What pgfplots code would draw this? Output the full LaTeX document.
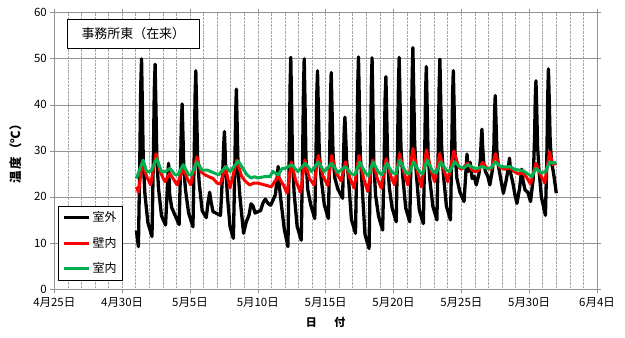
\documentclass[border=0pt]{standalone}
\usepackage{fontspec}
\setmainfont{Noto Sans CJK JP}
\usepackage{pgfplots}
\pgfplotsset{compat=1.18}
\definecolor{exred}{RGB}{255,0,0}
\definecolor{exgreen}{RGB}{0,176,80}
\begin{document}
\begin{tikzpicture}
\path[use as bounding box] (-54.3bp,-49bp) rectangle (570.7bp,289bp);
\begin{axis}[
  scale only axis, width=542.7bp, height=276.3bp,
  xmin=0, xmax=40, ymin=0, ymax=60,
  xtick={0,5,...,40},
  xticklabels={4月25日,4月30日,5月5日,5月10日,5月15日,5月20日,5月25日,5月30日,6月4日},
  minor x tick num=4,
  ytick={0,10,...,60},
  xmajorgrids, xminorgrids, ymajorgrids,
  x grid style={gray!70, densely dotted, line width=0.6bp},
  y grid style={gray!85, line width=0.6bp},
  axis line style={gray!85, line width=0.6bp},
  tick style={gray!85, line width=0.6bp},
  tick align=outside, major tick length=4bp, minor tick length=0bp,
  /pgf/number format/assume math mode=true,
  tick label style={font=\fontsize{11.5}{13}\selectfont},
  xticklabel style={yshift=-1bp},
  xlabel={\textbf{日\hspace{1.6em}付}},
  ylabel={\textbf{温\hspace{0.15em}度\hspace{0.1em}（℃）}},
  xlabel style={yshift=-3bp, font=\fontsize{11}{13}\selectfont},
  ylabel style={yshift=5bp, font=\fontsize{12.5}{14}\selectfont},
  legend cell align=left,
  legend style={at={(rel axis cs:0.006,0.03)}, anchor=south west, draw=black, line width=0.6bp, fill=white,
    font=\fontsize{12}{14}\selectfont, row sep=10bp, inner sep=4bp},
  legend image code/.code={\draw[#1] (0cm,0cm) -- (0.9cm,0cm);},
  line join=round,
]
\addplot[black, line width=3.3bp] table {
6.05 12.7
6.2 9.2
6.3 27.6
6.37 43.9
6.43 50.0
6.49 39.8
6.56 27.6
6.68 20.6
6.9 14.4
7.2 11.4
7.3 28.2
7.37 43.2
7.43 48.8
7.49 39.5
7.56 28.2
7.68 21.9
7.9 15.9
8.2 13.9
8.32 21.3
8.42 27.3
8.5 20.6
8.65 17.7
8.9 16.0
9.2 14.0
9.3 25.8
9.37 36.3
9.42 40.2
9.48 33.7
9.55 25.8
9.68 21.3
9.9 16.5
10.22 13.5
10.31 28.8
10.38 42.3
10.43 47.4
10.49 38.9
10.56 28.8
10.68 23.0
10.9 17.0
11.2 15.5
11.32 18.5
11.45 21.0
11.55 19.0
11.7 16.8
11.9 16.5
12.25 16.0
12.42 26.0
12.49 31.5
12.54 34.2
12.59 30.0
12.65 25.1
12.78 19.5
12.95 13.6
13.2 11.0
13.3 25.6
13.37 38.5
13.42 43.4
13.48 35.3
13.55 25.6
13.68 20.1
13.95 12.1
14.15 14.6
14.35 16.0
14.5 18.5
14.65 18.0
14.8 16.5
15.0 16.8
15.2 17.0
15.4 18.8
15.55 19.5
15.75 18.6
15.95 18.2
16.15 19.5
16.3 20.5
16.5 26.6
16.6 22.0
16.75 18.0
16.95 13.0
17.22 9.2
17.31 27.7
17.38 44.1
17.43 50.3
17.49 40.0
17.56 27.7
17.68 20.7
17.9 13.6
18.2 10.6
18.3 28.3
18.37 44.1
18.42 50.0
18.48 40.2
18.55 28.3
18.68 21.6
18.9 18.3
19.2 15.3
19.29 29.7
19.35 42.6
19.4 47.4
19.46 39.4
19.53 29.7
19.66 24.3
19.9 18.3
20.2 15.3
20.3 29.6
20.36 42.2
20.41 47.0
20.47 39.1
20.54 29.6
20.67 24.2
20.9 21.7
21.25 19.7
21.31 27.6
21.37 34.7
21.42 37.3
21.48 32.9
21.55 27.6
21.67 24.6
21.9 15.1
22.2 12.1
22.3 29.3
22.37 44.7
22.42 50.4
22.48 40.8
22.55 29.3
22.68 22.8
22.9 11.8
23.2 8.8
23.3 27.4
23.37 44.0
23.42 50.2
23.48 39.9
23.55 27.4
23.68 20.4
23.9 15.8
24.2 12.8
24.31 27.8
24.38 41.1
24.44 46.1
24.5 37.8
24.57 27.8
24.69 22.1
24.9 17.6
25.2 14.6
25.3 30.7
25.37 44.9
25.42 50.3
25.48 41.4
25.55 30.7
25.68 24.6
25.9 17.6
26.2 14.6
26.31 31.6
26.38 46.7
26.43 52.4
26.49 43.0
26.56 31.6
26.68 25.2
26.9 17.2
27.2 14.2
27.3 29.5
27.37 43.2
27.42 48.3
27.48 39.8
27.55 29.5
27.68 23.7
27.9 18.0
28.2 15.0
28.3 30.7
28.37 44.7
28.42 49.9
28.48 41.2
28.55 30.7
28.68 24.8
28.9 18.0
29.2 15.0
29.29 29.6
29.36 42.5
29.41 47.4
29.47 39.3
29.54 29.6
29.67 24.1
29.9 21.0
30.2 19.0
30.32 24.7
30.42 29.3
30.5 25.5
30.65 27.5
30.8 24.0
30.95 24.5
31.1 22.6
31.3 25.0
31.4 28.0
31.47 32.5
31.52 34.7
31.57 31.0
31.65 27.5
31.78 25.5
31.95 24.5
32.1 22.6
32.3 26.0
32.4 31.0
32.45 38.5
32.5 42.0
32.55 37.0
32.62 30.0
32.72 27.0
32.9 24.0
33.1 20.8
33.3 23.5
33.45 26.0
33.55 28.4
33.65 25.0
33.8 23.0
33.95 20.5
34.1 18.6
34.3 22.0
34.45 26.0
34.55 23.5
34.7 21.5
34.9 21.0
35.1 19.0
35.3 24.0
35.4 33.0
35.45 41.5
35.5 45.2
35.55 40.0
35.62 31.0
35.72 26.0
35.9 20.0
36.2 16.0
36.3 28.0
36.37 42.0
36.42 47.8
36.48 41.0
36.55 32.0
36.65 27.5
36.78 25.5
36.9 23.0
37.0 20.8
};
\addlegendentry{室外}
\addplot[exred, line width=3bp] table {
6.05 22.2
6.2 21.0
6.5 27.6
6.8 24.5
7.1 22.6
7.5 29.4
7.8 25.5
8.15 23.3
8.5 25.1
8.8 23.8
9.05 22.6
9.5 26.2
9.8 24.0
10.05 22.6
10.5 28.7
10.8 25.5
11.1 24.8
11.45 24.3
11.7 24.0
12.0 23.0
12.25 22.8
12.6 26.6
12.95 21.9
13.45 28.0
13.8 24.5
14.05 23.5
14.4 22.6
14.7 23.0
15.0 23.0
15.5 22.6
16.0 22.2
16.5 24.5
16.9 22.5
17.15 20.8
17.47 27.6
17.8 23.5
18.15 21.0
18.47 28.0
18.8 24.0
19.15 22.6
19.45 29.0
19.8 24.5
20.15 22.5
20.45 29.0
20.8 25.0
21.15 23.5
21.45 27.6
21.8 24.0
22.1 21.9
22.45 29.0
22.8 24.0
23.1 21.2
23.47 28.0
23.8 24.0
24.1 21.9
24.46 28.3
24.8 24.5
25.08 22.6
25.45 29.4
25.8 25.0
26.06 22.6
26.43 30.5
26.8 25.0
27.05 22.2
27.42 30.2
27.8 25.5
28.03 23.3
28.4 29.4
28.75 25.5
29.0 23.3
29.45 30.0
29.8 26.5
30.0 26.0
30.47 27.3
30.8 25.8
31.0 25.5
31.3 25.8
31.55 27.5
31.9 26.2
32.2 26.0
32.52 29.4
32.8 26.5
33.2 26.0
33.6 26.3
33.9 25.5
34.2 25.0
34.5 25.2
34.8 24.3
35.1 22.8
35.5 27.3
35.8 25.0
36.15 23.0
36.5 29.8
36.75 27.0
37.0 27.3
};
\addlegendentry{壁内}
\addplot[exgreen, line width=3bp] table {
6.05 24.0
6.55 28.0
6.8 25.5
7.1 25.5
7.55 28.3
7.9 25.5
8.2 25.5
8.53 26.2
8.9 24.8
9.1 24.8
9.5 27.0
9.9 24.8
10.1 24.8
10.5 27.6
10.9 25.8
11.3 25.8
11.7 25.3
12.1 24.8
12.65 26.6
12.95 25.5
13.55 27.8
14.2 24.8
14.5 24.1
14.75 24.4
15.0 24.1
15.5 24.4
15.9 24.4
16.1 25.5
16.5 24.8
16.8 26.2
17.0 26.2
17.5 27.0
17.95 25.5
18.5 27.3
18.95 25.5
19.45 27.6
19.9 25.5
20.45 27.3
20.9 25.3
21.45 26.6
21.9 25.0
22.15 24.8
22.5 27.6
22.9 25.3
23.15 24.6
23.5 27.6
23.9 25.3
24.15 24.8
24.5 27.3
24.9 25.3
25.15 25.0
25.48 28.0
25.9 25.3
26.15 25.0
26.48 27.6
26.9 25.5
27.15 25.0
27.47 28.0
27.9 25.5
28.15 25.2
28.47 27.6
28.9 25.8
29.15 25.5
29.5 27.6
29.9 26.5
30.2 26.3
30.5 27.0
30.9 26.3
31.2 26.2
31.5 26.6
31.9 26.2
32.2 26.3
32.5 27.6
32.9 26.6
33.3 26.5
33.6 26.6
33.9 26.0
34.3 25.8
34.6 25.6
35.0 24.8
35.2 24.4
35.5 26.2
35.9 25.2
36.2 25.5
36.5 27.6
36.8 27.3
37.0 27.5
};
\addlegendentry{室内}
\node[draw=black, fill=white, line width=0.6bp, minimum width=132bp, minimum height=29bp, inner sep=0pt,
  font=\fontsize{13}{15}\selectfont] at (rel axis cs:0.1456,0.9236) {事務所東（在来）};
\end{axis}
\end{tikzpicture}
\end{document}
